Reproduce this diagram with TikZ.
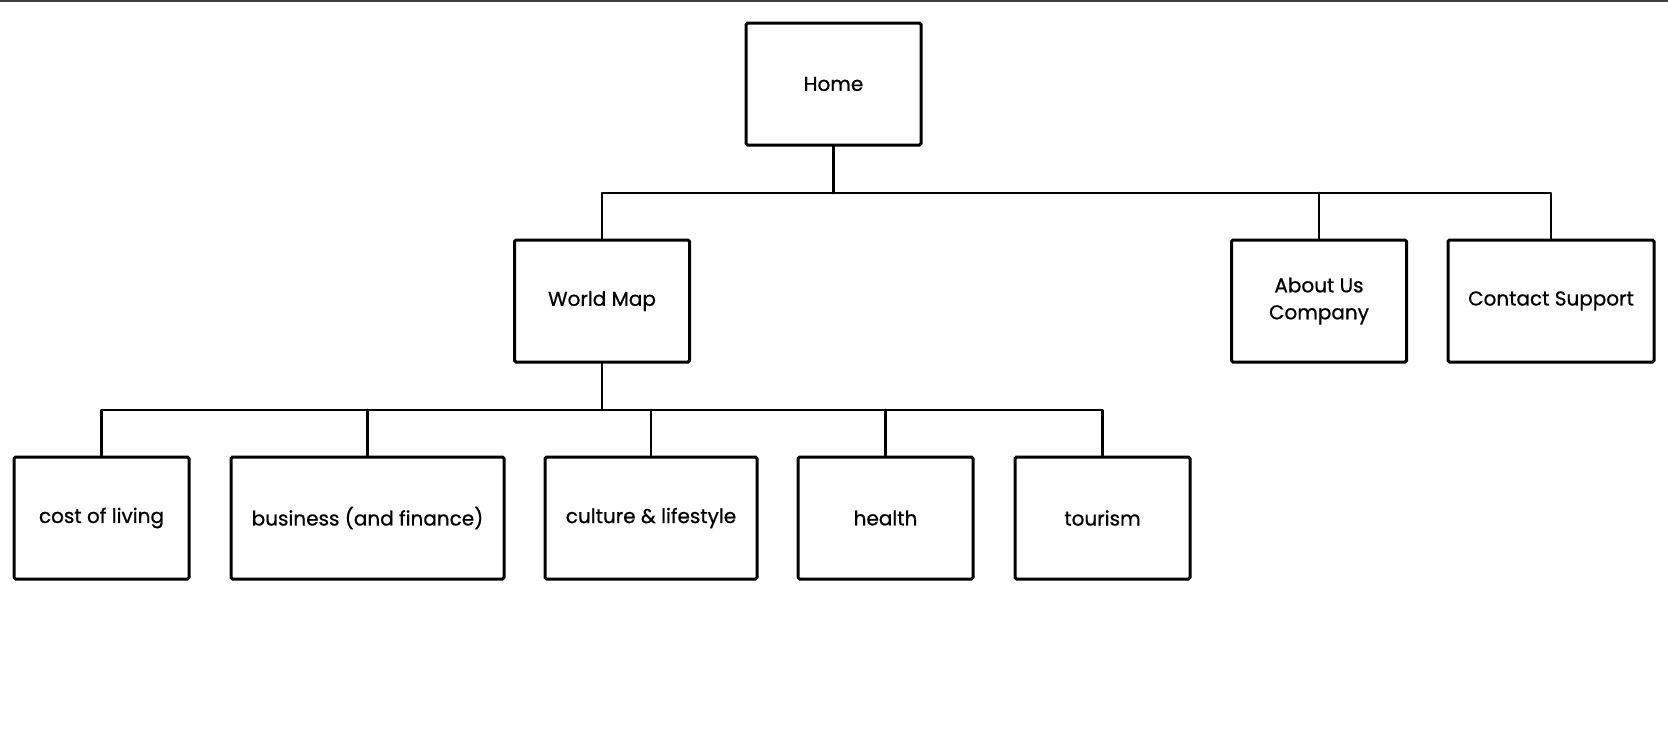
\documentclass[tikz,border=0pt]{standalone}
\usepackage{fontspec}
\setmainfont{Poppins}[FakeBold=0.7]
\begin{document}
\begin{tikzpicture}[x=1pt,y=-1pt,
  boxnode/.style={draw=black,line width=3pt,fill=white,minimum width=175pt,minimum height=122pt,inner sep=0pt,align=center,font=\fontsize{20}{27}\selectfont,rounded corners=1.5pt},
  conn/.style={draw=black,line width=2.8pt,line cap=round,line join=round}]
\useasboundingbox (0,0) rectangle (1668,750);
\fill[white] (0,0) rectangle (1668,750);
\draw[line width=2.5pt,color=black!75] (0,1) -- (1668,1);
% nodes
\node[boxnode] (home) at (833.5,84) {Home};
\node[boxnode] (wm) at (602,301) {World Map};
\node[boxnode] (about) at (1319,301) {About Us\\Company};
\node[boxnode,minimum width=206pt] (contact) at (1551,301) {Contact Support};
\node[boxnode] (cost) at (101.5,518) {cost of living};
\node[boxnode,minimum width=273pt] (bus) at (367.5,518) {business (and finance)};
\node[boxnode,minimum width=212pt] (cult) at (651,518) {culture \& lifestyle};
\node[boxnode] (health) at (885.5,518) {health};
\node[boxnode] (tour) at (1102.5,518) {tourism};
% connectors
\coordinate (j1) at (833.5,193);
\coordinate (j2) at (602,410);
\draw[conn] (home.south) -- (j1);
\draw[conn] (wm.north) |- (j1) -| (contact.north);
\draw[conn] (about.north) -- (about.north |- j1);
\draw[conn] (wm.south) -- (j2);
\draw[conn] (cost.north) |- (j2) -| (tour.north);
\draw[conn] (bus.north) -- (bus.north |- j2);
\draw[conn] (cult.north) -- (cult.north |- j2);
\draw[conn] (health.north) -- (health.north |- j2);
\end{tikzpicture}
\end{document}
